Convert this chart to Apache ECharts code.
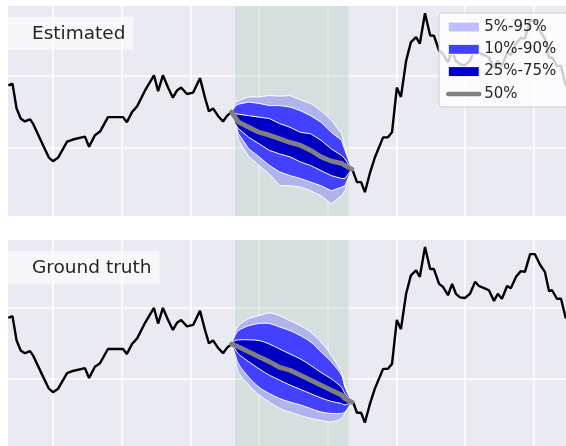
<!DOCTYPE html>
<html>
<head>
<meta charset="utf-8">
<script src="https://cdn.jsdelivr.net/npm/echarts@6/dist/echarts.min.js"></script>
<style>
  html, body { margin: 0; padding: 0; background: #fff; }
  #chart { width: 566px; height: 446px; }
</style>
</head>
<body>
<div id="chart"></div>
<script>
// observed series before the forecast window (time step, value)
const histT = [7.0, 8.2, 9.4, 10.6, 11.8, 13.3, 14.2, 17.1, 18.8, 20.0, 21.5, 24.1, 25.8, 29.3, 30.5,
  32.2, 33.7, 36.0, 38.0, 40.4, 41.5, 43.0, 44.5, 46.8, 49.4, 50.6, 52.0, 53.5, 54.9, 56.1,
  57.3, 59.0, 60.8, 62.8, 64.3, 65.4, 66.6, 68.0, 69.5, 70.7, 72.0];
const histV = [1.86, 1.885, 1.54, 1.40, 1.36, 1.39, 1.33, 1.03, 0.86, 0.81, 0.86, 1.08, 1.11, 1.15, 1.01,
  1.17, 1.22, 1.42, 1.42, 1.42, 1.35, 1.49, 1.57, 1.79, 2.0, 1.78, 2.0, 1.83, 1.69, 1.79,
  1.83, 1.74, 1.76, 1.96, 1.68, 1.50, 1.54, 1.44, 1.36, 1.44, 1.49];

// observed series after the forecast window
const futT = [107.3, 108.5, 109.7, 110.8, 112.3, 113.7, 116.1, 117.5, 118.7, 120.1, 121.3, 122.8, 124.2, 125.7, 126.8,
  128.3, 129.8, 130.9, 132.4, 133.5, 135.0, 136.2, 137.3, 138.5, 139.9, 141.4, 142.9, 144.0, 145.5, 146.9,
  148.4, 149.5, 150.7, 152.2, 153.3, 154.8, 156.2, 157.4, 158.9, 160.3, 161.8, 163.2, 164.4, 165.3, 166.7,
  167.9, 169.3];
const futV = [0.676, 0.52, 0.52, 0.38, 0.65, 0.86, 1.14, 1.14, 1.21, 1.83, 1.70, 2.20, 2.46, 2.53, 2.44,
  2.86, 2.55, 2.55, 2.34, 2.30, 2.18, 2.34, 2.20, 2.15, 2.14, 2.20, 2.37, 2.31, 2.28, 2.25,
  2.10, 2.20, 2.13, 2.31, 2.28, 2.44, 2.52, 2.51, 2.76, 2.76, 2.61, 2.51, 2.24, 2.25, 2.13,
  2.13, 1.85];

// forecast window quantiles
const bandT = [72, 73, 74, 77, 80, 83, 86, 89, 92, 95, 98, 101, 104, 105, 107];

const estP05 = [1.49, 1.33, 1.10, 0.87, 0.75, 0.63, 0.47, 0.47, 0.45, 0.40, 0.33, 0.22, 0.33, 0.40, 0.70];
const estP95 = [1.49, 1.62, 1.65, 1.70, 1.70, 1.72, 1.71, 1.72, 1.66, 1.61, 1.51, 1.38, 1.19, 1.01, 0.70];
const estP10 = [1.49, 1.35, 1.19, 0.98, 0.87, 0.75, 0.66, 0.61, 0.57, 0.52, 0.47, 0.40, 0.45, 0.47, 0.70];
const estP90 = [1.49, 1.57, 1.60, 1.63, 1.61, 1.58, 1.58, 1.56, 1.51, 1.44, 1.35, 1.21, 1.10, 0.96, 0.70];
const estP25 = [1.49, 1.33, 1.26, 1.14, 1.05, 0.96, 0.91, 0.87, 0.80, 0.75, 0.68, 0.61, 0.57, 0.57, 0.70];
const estP75 = [1.49, 1.47, 1.46, 1.44, 1.42, 1.40, 1.33, 1.28, 1.21, 1.19, 1.10, 0.98, 0.89, 0.84, 0.70];
const estP50 = [1.49, 1.42, 1.35, 1.28, 1.21, 1.17, 1.12, 1.07, 1.03, 0.96, 0.87, 0.81, 0.78, 0.75, 0.70];

const gtP05 = [1.49, 1.28, 1.09, 0.91, 0.77, 0.67, 0.58, 0.53, 0.48, 0.44, 0.41, 0.39, 0.44, 0.51, 0.67];
const gtP95 = [1.49, 1.66, 1.75, 1.85, 1.89, 1.93, 1.89, 1.82, 1.75, 1.66, 1.52, 1.33, 1.09, 0.91, 0.67];
const gtP10 = [1.49, 1.35, 1.21, 1.02, 0.88, 0.79, 0.72, 0.67, 0.63, 0.58, 0.53, 0.51, 0.51, 0.53, 0.67];
const gtP90 = [1.49, 1.61, 1.68, 1.75, 1.78, 1.78, 1.73, 1.68, 1.61, 1.52, 1.38, 1.24, 1.05, 0.88, 0.67];
const gtP25 = [1.49, 1.42, 1.35, 1.24, 1.14, 1.05, 0.98, 0.91, 0.85, 0.79, 0.73, 0.68, 0.65, 0.63, 0.67];
const gtP75 = [1.49, 1.54, 1.55, 1.55, 1.54, 1.49, 1.42, 1.35, 1.28, 1.19, 1.09, 1.00, 0.88, 0.79, 0.67];
const gtP50 = [1.49, 1.47, 1.45, 1.38, 1.31, 1.24, 1.16, 1.12, 1.05, 0.98, 0.91, 0.84, 0.77, 0.72, 0.67];

const gridX = [20, 40, 60, 80, 100, 120, 140, 160];
const gridY = [1, 2];
const shade = [73, 106];
const panelTitles = ['Estimated', 'Ground truth'];
const legendNames = ['5%-95%', '10%-90%', '25%-75%', '50%'];

const zip = (a, b) => a.map((x, i) => [x, b[i]]);
const font = 'DejaVu Sans';
const cLight = '#AFB5EC', cMid = '#4141FF', cDark = '#0000C4';

function band(idx, lo, hi, color, name, smooth) {
  return {
    type: 'custom', name: name, xAxisIndex: idx, yAxisIndex: idx, z: 2, silent: true,
    itemStyle: { color: color },
    data: [0],
    renderItem: function (params, api) {
      const pts = [];
      bandT.forEach((t, i) => pts.push(api.coord([t, hi[i]])));
      for (let i = bandT.length - 1; i >= 0; i--) pts.push(api.coord([bandT[i], lo[i]]));
      return {
        type: 'polygon',
        shape: { points: pts, smooth: smooth },
        style: { fill: color, stroke: '#fff', lineWidth: 1 }
      };
    }
  };
}

function panel(idx, q, smooth, named) {
  return [
    {
      type: 'line', xAxisIndex: idx, yAxisIndex: idx, z: 3, silent: true,
      data: zip(histT, histV), showSymbol: false,
      lineStyle: { color: '#000', width: 2.4 },
      markLine: {
        silent: true, symbol: 'none', z: 0, label: { show: false },
        lineStyle: { color: '#fff', width: 1.5, type: 'solid' },
        data: gridX.map(x => ({ xAxis: x })).concat(gridY.map(y => ({ yAxis: y })))
      },
      markArea: {
        silent: true, z: 1,
        itemStyle: { color: 'rgba(167,200,175,0.3)' },
        data: [[{ xAxis: shade[0] }, { xAxis: shade[1] }]]
      }
    },
    {
      type: 'line', xAxisIndex: idx, yAxisIndex: idx, z: 3, silent: true,
      data: zip(futT, futV), showSymbol: false,
      lineStyle: { color: '#000', width: 2.4 }
    },
    band(idx, q[0], q[1], cLight, named ? legendNames[0] : undefined, smooth),
    band(idx, q[2], q[3], cMid, named ? legendNames[1] : undefined, smooth),
    band(idx, q[4], q[5], cDark, named ? legendNames[2] : undefined, smooth),
    {
      type: 'line', name: named ? legendNames[3] : undefined,
      xAxisIndex: idx, yAxisIndex: idx, z: 4, silent: true,
      data: zip(bandT, q[6]), showSymbol: false, symbol: 'none',
      itemStyle: { color: '#808080' },
      lineStyle: { color: '#808080', width: 4.8, cap: 'round', join: 'round' }
    }
  ];
}

const chart = echarts.init(document.getElementById('chart'));
const axisX = i => ({ type: 'value', gridIndex: i, min: 6.9, max: 169.35, show: false });
const axisY = i => ({ type: 'value', gridIndex: i, min: 0.05, max: 2.96, show: false });

chart.setOption({
  animation: false,
  grid: [
    { left: 8, right: 0, top: 6, height: 210, show: true, backgroundColor: '#EAEAF2', borderWidth: 0 },
    { left: 8, right: 0, top: 240, height: 210, show: true, backgroundColor: '#EAEAF2', borderWidth: 0 }
  ],
  xAxis: [axisX(0), axisX(1)],
  yAxis: [axisY(0), axisY(1)],
  title: panelTitles.map((t, i) => ({
    text: t, left: 8, top: i === 0 ? 17 : 251,
    padding: [7, 8, 6, 24],
    backgroundColor: 'rgba(255,255,255,0.6)',
    textStyle: { fontFamily: font, fontSize: 18.5, fontWeight: 'normal', color: '#262626', lineHeight: 20 }
  })),
  legend: {
    orient: 'vertical', left: 439, top: 13, align: 'left',
    padding: [5, 12, 4, 7],
    itemWidth: 31, itemHeight: 10, itemGap: 4.3, itemTextGap: 13,
    backgroundColor: 'rgba(255,255,255,0.8)',
    borderColor: '#cccccc', borderWidth: 1, borderRadius: 3,
    selectedMode: false,
    textStyle: { fontFamily: font, fontSize: 15, color: '#262626', lineHeight: 18 },
    data: [
      { name: legendNames[0], icon: 'rect', itemStyle: { color: '#BFBFFF', borderColor: '#fff', borderWidth: 1 } },
      { name: legendNames[1], icon: 'rect', itemStyle: { color: '#4040FF', borderColor: '#fff', borderWidth: 1 } },
      { name: legendNames[2], icon: 'rect', itemStyle: { color: '#0000CC', borderColor: '#fff', borderWidth: 1 } },
      { name: legendNames[3], itemStyle: { color: 'rgba(0,0,0,0)', borderWidth: 0 },
        lineStyle: { color: '#808080', width: 4.5, cap: 'round' } }
    ]
  },
  series: panel(0, [estP05, estP95, estP10, estP90, estP25, estP75, estP50], 0, true)
    .concat(panel(1, [gtP05, gtP95, gtP10, gtP90, gtP25, gtP75, gtP50], 0.3, false))
});
</script>
</body>
</html>
